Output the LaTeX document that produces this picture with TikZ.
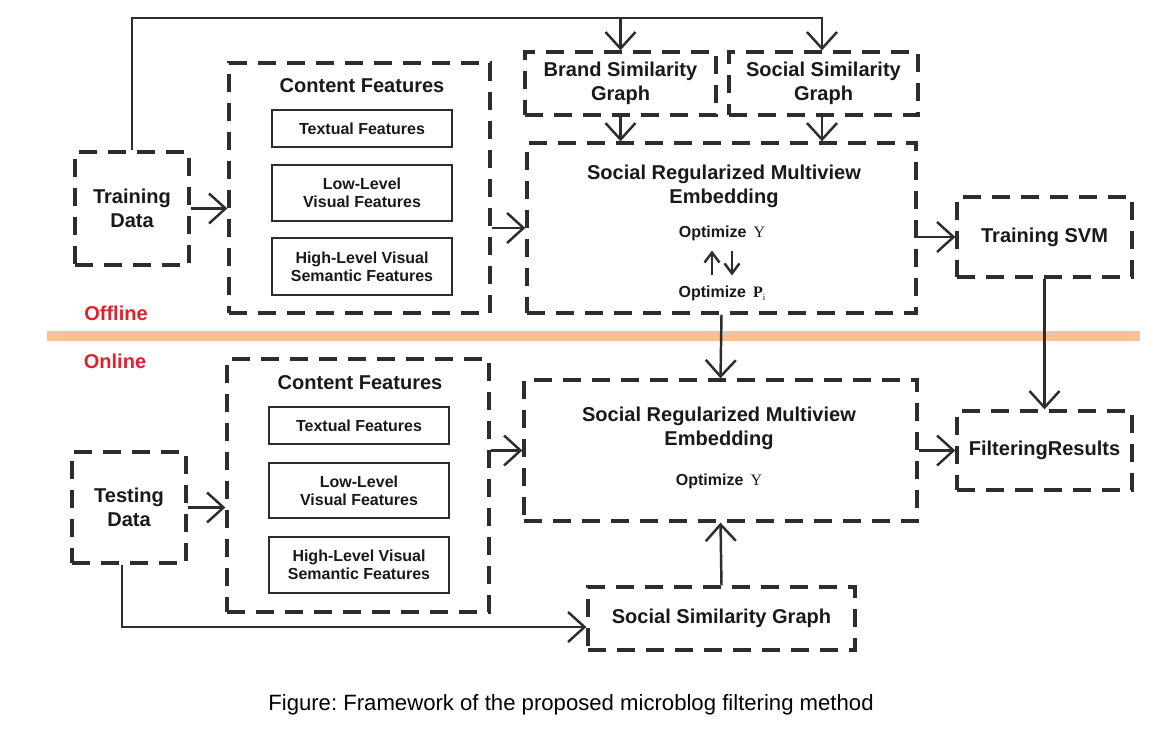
\documentclass[tikz,border=0pt]{standalone}
\usepackage{fontspec}
\setmainfont{Liberation Sans}
\newfontfamily\serifface{Liberation Serif}
\usetikzlibrary{arrows.meta}
\frenchspacing

\definecolor{linegray}{RGB}{45,45,45}
\definecolor{textblack}{RGB}{25,25,25}
\definecolor{bandorange}{RGB}{247,192,150}
\definecolor{labelred}{RGB}{222,34,46}

\tikzset{
  dashbox/.style={draw=linegray, line width=1.9pt, dash pattern=on 0.36cm off 0.22cm, inner sep=0pt},
  featbox/.style={draw=linegray, line width=1.6pt, minimum width=3.6cm, inner sep=0pt, align=center,
    text=textblack, font=\fontsize{9.1}{10.2}\selectfont\bfseries},
  bigtext/.style={align=center, text=textblack, font=\fontsize{11.4}{13.7}\selectfont\bfseries},
  opttext/.style={text=textblack, font=\fontsize{9.1}{11}\selectfont\bfseries},
  flow/.style={->, draw=linegray},
  swap/.style={->, draw=linegray, >={Straight Barb[length=0.2cm,width=0.3cm]}, shorten >=0.06cm, shorten <=0.06cm}
}

\begin{document}
\begin{tikzpicture}[x=0.02cm, y=-0.02cm, line width=1.4pt,
  >={Straight Barb[length=0.33cm,width=0.6cm]}]
  \useasboundingbox (0,0) rectangle (1174,737);

  % offline / online divider
  \draw[bandorange, line width=0.2cm] (47,336) -- (1140,336);
  \node[bigtext, text=labelred] (offline) at (116,313) {Offline};
  \node[bigtext, text=labelred] (online) at (115,361) {Online};

  % offline part
  \node[dashbox, bigtext, minimum width=2.28cm, minimum height=2.26cm] (train) at (132,208.5) {Training\\Data};
  \node[dashbox, minimum width=5.22cm, minimum height=5cm] (cfOff) at (359.5,188) {};
  \node[bigtext] (cfOffTitle) at (362,86) {Content Features};
  \node[featbox, minimum height=0.74cm] (txtOff) at (362,128.5) {Textual Features};
  \node[featbox, minimum height=1.12cm] (lowOff) at (362,193) {Low-Level\\Visual Features};
  \node[featbox, minimum height=1.14cm] (highOff) at (362,266.5) {High-Level Visual\\Semantic Features};
  \node[dashbox, bigtext, minimum width=3.82cm, minimum height=1.26cm] (brand) at (620.5,83.5) {Brand Similarity\\Graph};
  \node[dashbox, bigtext, minimum width=3.78cm, minimum height=1.26cm] (socOff) at (823.5,83.5) {Social Similarity\\Graph};
  \node[dashbox, minimum width=7.78cm, minimum height=3.4cm] (srmeOff) at (721.5,228) {};
  \node[bigtext] (srmeOffTitle) at (724,186) {Social Regularized Multiview\\Embedding};
  \node[opttext] (optY) at (722,233) {Optimize \,{\serifface\mdseries Y}};
  \node[opttext] (optP) at (722,293) {Optimize \,{\serifface P}\raisebox{-0.4ex}{\serifface\mdseries\tiny i}};
  \node[dashbox, bigtext, minimum width=3.5cm, minimum height=1.6cm] (svm) at (1044.5,237) {Training SVM};

  % online part
  \node[dashbox, bigtext, minimum width=2.28cm, minimum height=2.22cm] (test) at (129,507.5) {Testing\\Data};
  \node[dashbox, minimum width=5.24cm, minimum height=5.06cm] (cfOn) at (358,485.5) {};
  \node[bigtext] (cfOnTitle) at (360,383) {Content Features};
  \node[featbox, minimum height=0.74cm] (txtOn) at (359,425.5) {Textual Features};
  \node[featbox, minimum height=1.1cm] (lowOn) at (359,490.5) {Low-Level\\Visual Features};
  \node[featbox, minimum height=1.12cm] (highOn) at (359,565) {High-Level Visual\\Semantic Features};
  \node[dashbox, minimum width=7.86cm, minimum height=2.82cm] (srmeOn) at (720.5,450.5) {};
  \node[bigtext] (srmeOnTitle) at (719,428) {Social Regularized Multiview\\Embedding};
  \node[opttext] (optYOn) at (719,481) {Optimize \,{\serifface\mdseries Y}};
  \node[dashbox, bigtext, minimum width=3.5cm, minimum height=1.58cm] (filter) at (1044.5,450.5) {FilteringResults};
  \node[dashbox, bigtext, minimum width=5.34cm, minimum height=1.26cm] (socOn) at (721.5,618.5) {Social Similarity Graph};

  % connectors
  \coordinate (topR) at (822,18);
  \draw[flow] (train.north) |- (topR) -- (topR |- socOff.north);
  \draw[flow] (brand.north |- topR) -- (brand.north);
  \draw[flow] (train.east) -- (train.east -| cfOff.west);
  \draw[flow] (srmeOff.west -| cfOff.east) -- (srmeOff.west);
  \draw[flow] (brand.south) -- (brand.south |- srmeOff.north);
  \draw[flow] (topR |- socOff.south) -- (topR |- srmeOff.north);
  \draw[swap] ([xshift=-0.2cm]optP.north) -- ([xshift=-0.2cm]optY.south);
  \draw[swap] ([xshift=0.2cm]optY.south) -- ([xshift=0.2cm]optP.north);
  \draw[flow] (svm.west -| srmeOff.east) -- (svm.west);
  \draw[flow] (svm.south) -- (filter.north);
  \draw[flow] (srmeOff.south) -- (srmeOn.north);
  \draw[flow] (test.east) -- (test.east -| cfOn.west);
  \draw[flow] (srmeOn.west -| cfOn.east) -- (srmeOn.west);
  \draw[flow] (srmeOn.east) -- (filter.west);
  \draw[flow] (socOn.north) -- (srmeOn.south);
  \draw[flow] ([xshift=-0.14cm]test.south) |- ([yshift=-0.17cm]socOn.west);

  \node[text=black, font=\fontsize{12.6}{14}\selectfont] (caption) at (571,705) {Figure: Framework of the proposed microblog filtering method};
\end{tikzpicture}
\end{document}
